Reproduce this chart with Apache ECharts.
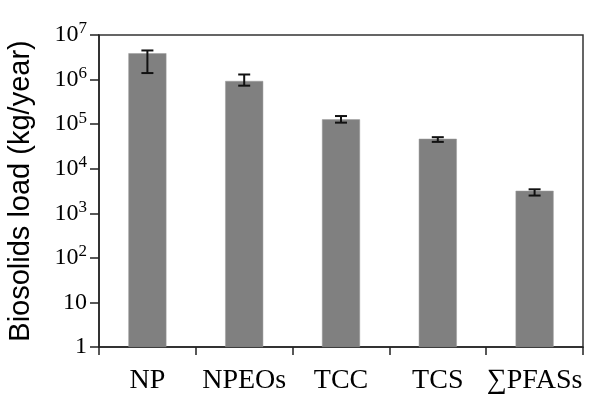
<!DOCTYPE html>
<html>
<head>
<meta charset="utf-8">
<script src="https://cdn.jsdelivr.net/npm/echarts@6/dist/echarts.min.js"></script>
<style>html,body{margin:0;padding:0;background:#fff}#c{width:602px;height:418px}</style>
</head>
<body>
<div id="c"></div>
<script>
var categories = ['NP', 'NPEOs', 'TCC', 'TCS', '\u2211PFASs'];
var loadValues = [3.9e6, 9.3e5, 1.28e5, 4.7e4, 3.2e3];
var errorLow = [1.4e6, 7.3e5, 1.08e5, 4.0e4, 2.5e3];
var errorHigh = [4.5e6, 1.3e6, 1.52e5, 5.1e4, 3.45e3];
var yTickValues = [1, 10, 100, 1e3, 1e4, 1e5, 1e6, 1e7];

var chart = echarts.init(document.getElementById('c'), null, {renderer: 'canvas'});
var serif = '"Liberation Serif", "Times New Roman", serif';
var sans = '"Liberation Sans", Arial, sans-serif';

var errData = categories.map(function (c, i) { return [i, errorLow[i], errorHigh[i]]; });

chart.setOption({
  animation: false,
  backgroundColor: '#fff',
  grid: {left: 99, right: 19, top: 35, bottom: 71, containLabel: false, outerBoundsMode: 'none', show: true, borderColor: '#333', borderWidth: 1.5, backgroundColor: 'transparent'},
  xAxis: {
    type: 'category',
    data: categories,
    axisLine: {lineStyle: {color: '#222', width: 1.5}},
    axisTick: {show: true, interval: 0, length: 8, lineStyle: {color: '#222', width: 1.5}},
    axisLabel: {color: '#000', fontFamily: serif, fontSize: 28, margin: 20, interval: 0}
  },
  yAxis: {
    type: 'log',
    logBase: 10,
    min: 1,
    max: 1e7,
    splitNumber: 7,
    name: 'Biosolids load (kg/year)',
    nameLocation: 'middle',
    nameRotate: 90,
    nameGap: 64,
    nameTextStyle: {color: '#000', fontFamily: sans, fontSize: 29},
    splitLine: {show: false},
    axisLine: {show: true, lineStyle: {color: '#222', width: 1.5}},
    axisTick: {show: true, length: 9, lineStyle: {color: '#222', width: 1.5}},
    axisLabel: {
      margin: 12,
      color: '#000',
      fontFamily: serif,
      fontSize: 24,
      formatter: function (v) {
        var e = Math.round(Math.log10(v));
        if (yTickValues.indexOf(Math.pow(10, e)) < 0) return '';
        if (e === 0) return '1';
        if (e === 1) return '10';
        return '10{sup|' + e + '}';
      },
      rich: {
        sup: {fontFamily: serif, fontSize: 17, color: '#000', padding: [0, 0, 12, 0]}
      }
    }
  },
  series: [
    {
      type: 'bar',
      data: loadValues,
      barWidth: 38,
      itemStyle: {color: '#808080', borderColor: '#9a9a9a', borderWidth: 0.5},
      z: 2
    },
    {
      type: 'custom',
      data: errData,
      z: 5,
      renderItem: function (params, api) {
        var x = api.value(0);
        var lo = api.coord([x, api.value(1)]);
        var hi = api.coord([x, api.value(2)]);
        var cw = 6;
        var st = {stroke: '#111', lineWidth: 2};
        return {
          type: 'group',
          children: [
            {type: 'line', shape: {x1: lo[0], y1: lo[1], x2: hi[0], y2: hi[1]}, style: st},
            {type: 'line', shape: {x1: lo[0] - cw, y1: lo[1], x2: lo[0] + cw, y2: lo[1]}, style: st},
            {type: 'line', shape: {x1: hi[0] - cw, y1: hi[1], x2: hi[0] + cw, y2: hi[1]}, style: st}
          ]
        };
      }
    }
  ]
});
</script>
</body>
</html>
